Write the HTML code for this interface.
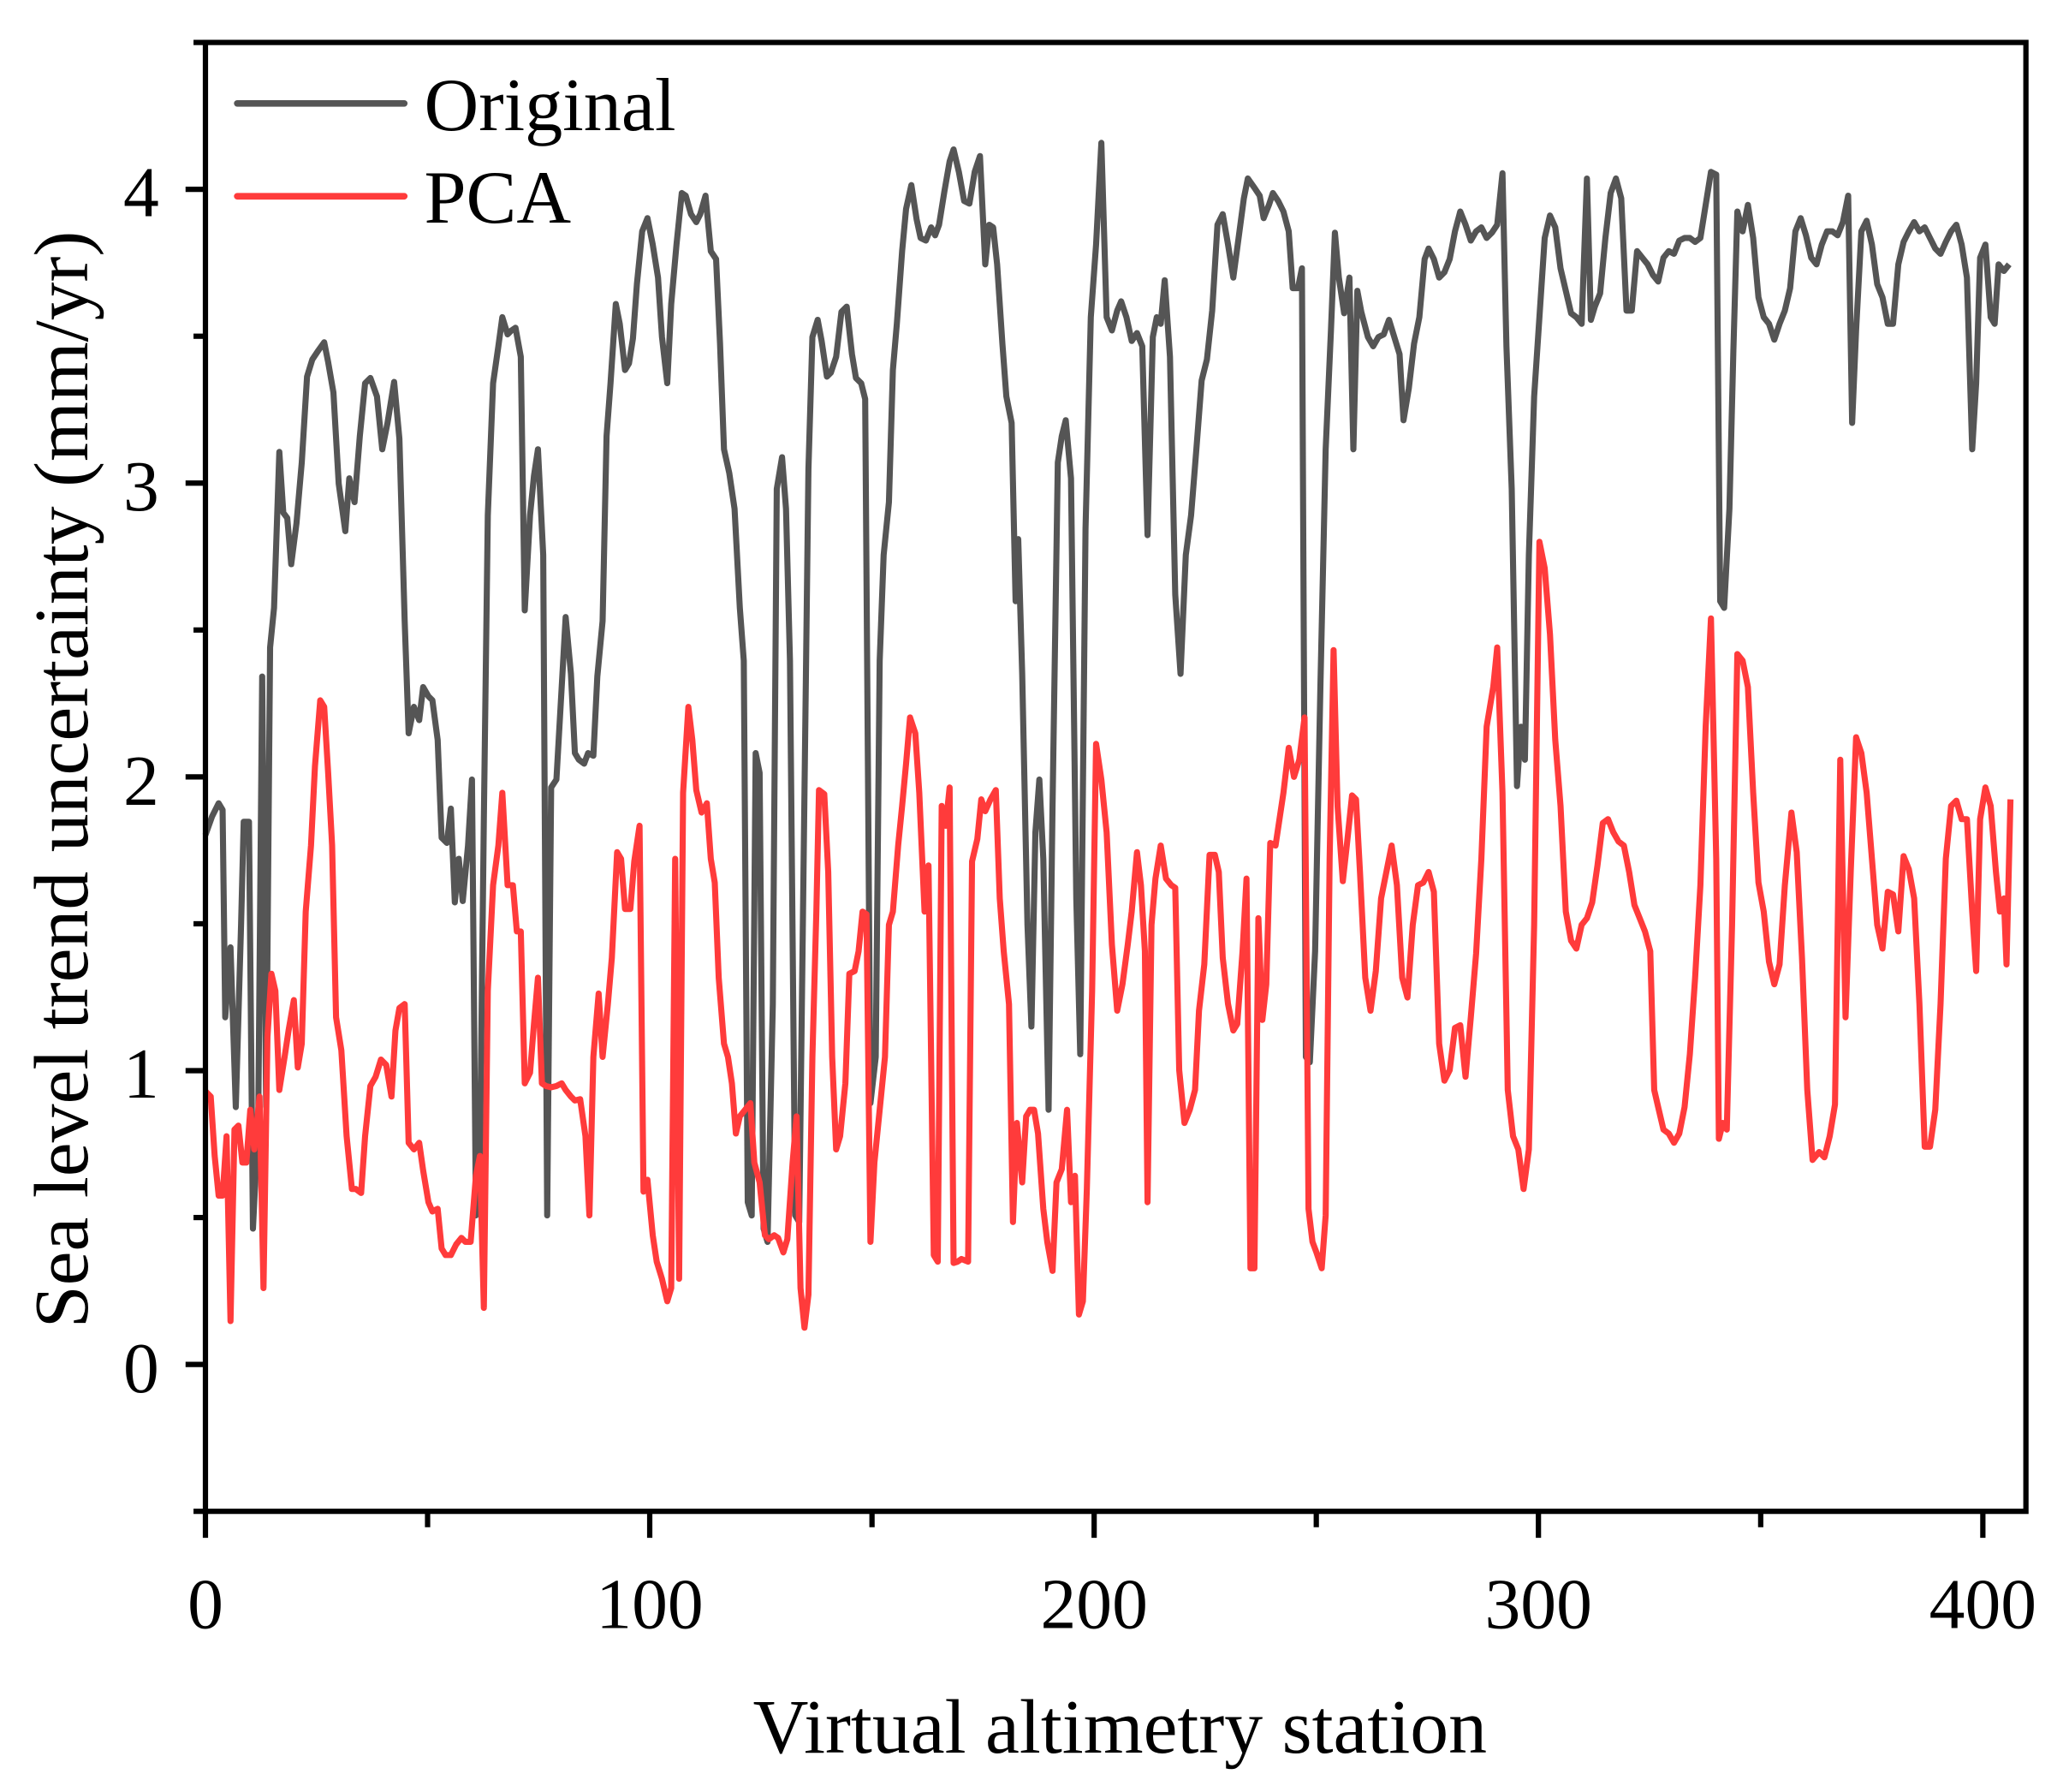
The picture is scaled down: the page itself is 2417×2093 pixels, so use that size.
<!DOCTYPE html>
<html><head><meta charset="utf-8"><style>html,body{margin:0;padding:0;background:#fff}svg{display:block}</style></head>
<body>
<svg width="2417" height="2093" viewBox="0 0 1561 1351.7" xmlns="http://www.w3.org/2000/svg" font-family="Liberation Serif, serif">
<rect x="0" y="0" width="1561" height="1352" fill="#fff"/>
<g transform="translate(155,32) scale(0.9955,0.9964) translate(-155,-32)" fill="none" stroke-linejoin="round" stroke-width="4.6">
<polyline stroke="#555555" points="155,632 160,618 165,608 168,613 170,770 174,717 178,838 182,700 184,622 188,622 191,930 195,850 198,512 201,838 204,490 207,460 211,342 214,388 217,392 220,427 224,396 228,350 232,285 236,272 240,266 245,259 248,274 252,297 256,366 261,402 264,362 268,380 272,330 276,290 280,286 285,300 289,340 293,320 298,289 302,332 306,470 309,555 313,535 317,545 320,520 324,527 327,530 331,560 334,634 338,638 341,612 344,683 347,650 350,682 354,640 357,590 360,920 363,880 366,620 369,390 373,290 377,262 380,240 384,253 387,250 390,248 394,270 397,462 401,390 404,360 407,340 411,420 414,920 417,596 421,590 425,520 428,467 432,510 435,570 438,575 442,578 445,570 449,572 452,512 456,470 459,330 462,290 466,230 469,245 473,280 476,275 479,256 482,215 486,175 490,165 494,185 498,210 501,255 505,290 508,230 512,185 516,146 519,148 523,162 527,168 530,162 534,148 538,190 542,196 545,260 548,340 552,358 556,385 560,460 563,500 566,910 569,920 572,570 575,585 578,930 581,940 585,760 588,370 592,346 595,385 598,500 602,920 605,925 609,600 612,355 615,255 619,242 622,258 626,285 629,282 633,270 637,236 641,232 645,268 648,286 652,290 655,302 659,835 663,800 666,500 669,420 673,380 676,280 679,245 683,190 686,158 690,140 694,166 697,180 701,182 705,172 708,178 711,170 715,145 719,122 722,113 726,130 730,152 734,154 738,130 742,118 746,200 749,170 752,172 755,200 759,260 762,300 766,320 769,455 771,408 774,510 778,700 781,777 784,630 787,590 790,650 794,840 797,610 801,350 804,330 807,318 811,362 815,680 818,798 822,400 826,240 830,185 834,108 838,240 842,250 846,235 849,228 853,240 857,258 861,252 865,262 869,405 873,255 876,240 879,245 882,212 886,270 890,450 894,510 898,420 902,390 906,340 910,288 914,272 918,235 922,170 926,162 930,185 934,210 938,180 942,150 945,135 950,142 954,148 957,165 961,155 964,146 968,152 972,160 976,175 979,218 983,218 986,203 989,800 992,804 996,720 1000,520 1004,340 1008,250 1011,176 1014,210 1018,237 1022,210 1025,340 1028,220 1031,236 1036,255 1040,262 1044,255 1048,253 1052,242 1056,255 1060,268 1063,318 1067,294 1071,260 1075,240 1079,196 1082,188 1086,196 1090,210 1094,206 1098,196 1102,175 1106,160 1110,170 1114,182 1118,175 1122,172 1126,180 1130,176 1134,170 1138,131 1141,262 1145,370 1149,595 1152,550 1155,575 1158,420 1162,300 1166,240 1170,180 1174,163 1178,172 1182,203 1186,220 1190,237 1194,240 1198,245 1202,135 1205,242 1208,232 1212,222 1216,180 1220,146 1224,135 1228,150 1232,235 1236,235 1240,190 1244,195 1248,200 1252,208 1256,213 1260,195 1264,190 1268,192 1272,182 1276,180 1280,180 1284,183 1288,180 1292,155 1296,130 1300,132 1303,455 1306,460 1310,385 1313,265 1316,160 1320,175 1324,155 1328,180 1332,225 1336,240 1340,245 1344,257 1348,245 1352,235 1356,218 1360,175 1364,165 1368,178 1372,195 1376,200 1380,185 1384,175 1388,175 1392,178 1396,168 1400,148 1403,320 1406,250 1410,175 1414,167 1418,185 1422,215 1426,225 1430,245 1434,245 1438,200 1442,183 1446,175 1450,168 1454,175 1458,172 1462,180 1466,188 1470,192 1474,183 1478,175 1482,170 1486,185 1490,210 1494,340 1497,290 1500,195 1504,185 1508,240 1511,245 1514,200 1518,205 1522,200"/>
<polyline stroke="#ff3b3b" points="155,826 159,830 162,875 165,905 168,905 171,860 174,1000 177,855 180,852 183,880 186,880 189,840 192,870 196,830 199,975 202,785 205,737 208,750 211,825 215,800 218,780 222,757 225,808 228,790 231,690 235,640 238,580 242,530 245,535 248,585 251,640 254,770 258,795 262,860 266,900 269,900 273,903 276,860 280,822 284,815 288,802 292,806 296,830 299,780 302,763 306,760 309,865 313,870 317,865 320,886 324,910 327,917 331,915 334,945 337,950 341,950 345,942 349,937 352,940 356,940 360,890 363,875 366,990 369,750 373,670 377,640 380,600 384,670 388,670 391,705 394,705 397,820 401,812 404,775 407,740 410,820 413,822 417,823 421,822 425,820 428,825 432,830 435,833 439,832 443,860 446,920 449,800 453,752 456,800 460,760 463,725 467,645 470,650 473,688 477,688 480,652 484,625 487,902 490,893 494,935 497,955 501,968 505,985 508,975 511,650 514,968 517,600 521,535 524,560 527,598 531,615 535,608 538,650 541,668 544,740 548,790 551,800 554,820 557,858 560,845 564,840 568,835 571,880 575,895 579,935 582,938 586,935 589,937 593,948 596,938 600,880 603,845 606,975 609,1005 612,980 615,800 618,690 620,598 624,601 627,660 630,800 633,870 636,860 640,820 643,737 647,735 650,720 653,690 656,692 659,940 662,880 666,840 670,800 673,700 676,690 680,640 683,610 686,578 689,543 693,555 696,600 700,690 703,655 707,950 710,955 713,610 716,625 719,596 722,956 725,955 728,953 733,955 736,652 740,635 743,605 746,614 750,605 754,598 757,680 760,720 764,760 767,925 770,850 774,895 777,845 780,840 783,840 786,858 790,915 793,940 797,962 800,895 804,885 808,840 811,910 814,890 817,995 820,985 823,900 827,750 830,563 834,590 838,630 842,715 846,765 850,745 854,715 857,690 861,645 864,670 867,720 869,910 872,700 875,665 879,640 883,665 887,670 890,672 893,810 897,850 901,840 905,825 908,765 912,730 916,647 920,647 923,660 926,725 930,760 934,780 937,775 941,720 944,665 947,960 950,960 953,695 956,772 959,745 962,638 966,640 969,620 972,600 976,566 980,588 984,575 988,543 991,915 994,940 997,948 1001,960 1004,920 1007,650 1010,492 1013,610 1017,667 1020,640 1024,602 1027,605 1030,660 1034,740 1038,765 1042,735 1046,680 1050,660 1054,640 1058,670 1062,740 1066,755 1070,700 1074,670 1078,668 1082,660 1086,675 1090,790 1094,818 1098,810 1102,778 1106,776 1110,815 1114,770 1118,722 1122,650 1126,550 1131,520 1134,490 1138,600 1142,825 1146,860 1150,870 1154,900 1158,870 1162,700 1166,410 1170,430 1174,480 1178,560 1182,610 1186,690 1190,712 1194,718 1198,700 1202,695 1206,683 1210,655 1214,623 1218,620 1222,630 1226,637 1230,640 1234,660 1238,685 1242,695 1246,705 1250,720 1253,825 1256,838 1260,855 1264,858 1268,865 1272,858 1276,838 1280,798 1284,740 1288,670 1292,550 1296,468 1300,650 1302,862 1305,850 1308,855 1312,700 1316,495 1320,500 1324,520 1328,600 1332,668 1336,690 1340,728 1344,745 1348,730 1352,670 1357,615 1361,645 1365,725 1369,825 1373,878 1378,872 1382,876 1386,860 1390,836 1394,575 1398,770 1402,658 1406,558 1410,570 1414,600 1418,650 1422,700 1426,718 1430,675 1434,677 1438,705 1442,648 1446,658 1450,680 1454,760 1458,868 1462,868 1466,840 1470,760 1474,650 1478,610 1482,606 1486,620 1490,620 1494,690 1497,735 1500,620 1504,596 1508,610 1512,660 1515,690 1518,680 1520,730 1523,605"/>
</g>
<g stroke="#000" stroke-width="4" fill="none">
<rect x="155" y="32" width="1373.5" height="1108"/>
<line x1="155" y1="1140" x2="155" y2="1160"/><line x1="490.2" y1="1140" x2="490.2" y2="1160"/><line x1="825.5" y1="1140" x2="825.5" y2="1160"/><line x1="1160.7" y1="1140" x2="1160.7" y2="1160"/><line x1="1496" y1="1140" x2="1496" y2="1160"/>
<line x1="322.6" y1="1140" x2="322.6" y2="1152"/><line x1="657.9" y1="1140" x2="657.9" y2="1152"/><line x1="993.1" y1="1140" x2="993.1" y2="1152"/><line x1="1328.4" y1="1140" x2="1328.4" y2="1152"/>
<line x1="140" y1="1029.2" x2="155" y2="1029.2"/><line x1="140" y1="807.6" x2="155" y2="807.6"/><line x1="140" y1="586" x2="155" y2="586"/><line x1="140" y1="364.4" x2="155" y2="364.4"/><line x1="140" y1="142.8" x2="155" y2="142.8"/>
<line x1="146" y1="1140" x2="155" y2="1140"/><line x1="146" y1="918.4" x2="155" y2="918.4"/><line x1="146" y1="696.8" x2="155" y2="696.8"/><line x1="146" y1="475.2" x2="155" y2="475.2"/><line x1="146" y1="253.6" x2="155" y2="253.6"/><line x1="146" y1="32" x2="155" y2="32"/>
</g>
<g font-size="54" fill="#000" text-anchor="middle">
<text x="155" y="1228">0</text><text x="490.2" y="1228">100</text><text x="825.5" y="1228">200</text><text x="1160.7" y="1228">300</text><text x="1496" y="1228">400</text>
</g>
<g font-size="54" fill="#000" text-anchor="end">
<text x="120" y="1050">0</text><text x="120" y="828">1</text><text x="120" y="607">2</text><text x="120" y="385">3</text><text x="120" y="163">4</text>
</g>
<text x="845" y="1322" font-size="58" text-anchor="middle">Virtual altimetry station</text>
<text transform="translate(66,588) rotate(-90)" font-size="58" text-anchor="middle">Sea level trend uncertainty (mm/yr)</text>
<line x1="179" y1="78" x2="305" y2="78" stroke="#555555" stroke-width="5" stroke-linecap="round"/>
<line x1="179" y1="148" x2="305" y2="148" stroke="#ff3b3b" stroke-width="5" stroke-linecap="round"/>
<text x="320" y="98" font-size="57">Original</text>
<text x="320" y="168" font-size="57">PCA</text>
</svg>
</body></html>
